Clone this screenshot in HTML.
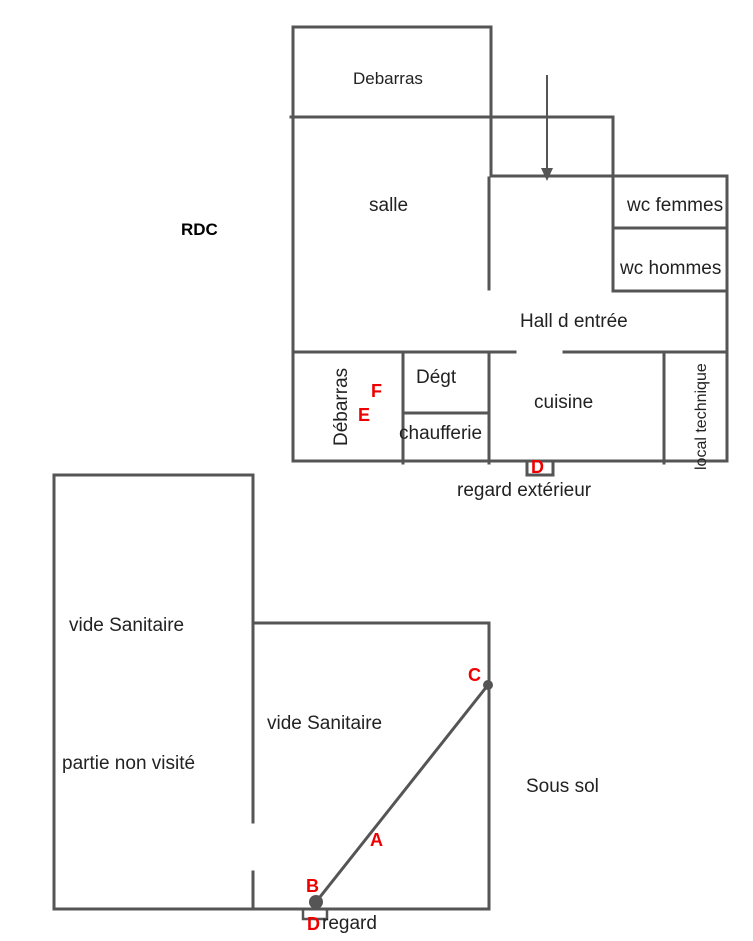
<!DOCTYPE html>
<html><head><meta charset="utf-8"><style>
body{margin:0;background:#fff}
svg{display:block}
text{font-family:"Liberation Sans",Arial,sans-serif;fill:#222;font-size:19px}
.r{fill:#e00;font-weight:bold;font-size:18px}
</style></head><body>
<svg width="753" height="941" viewBox="0 0 753 941">
<g stroke="#555" stroke-width="3" fill="none" stroke-linecap="square">
<polyline points="293,461 293,27 491,27 491,117"/>
<line x1="291" y1="117" x2="613" y2="117"/>
<line x1="613" y1="117" x2="613" y2="291"/>
<line x1="491" y1="117" x2="491" y2="176"/>
<line x1="491" y1="176" x2="727" y2="176"/>
<line x1="727" y1="176" x2="727" y2="461"/>
<line x1="489" y1="178" x2="489" y2="289"/>
<line x1="613" y1="228" x2="727" y2="228"/>
<line x1="613" y1="291" x2="727" y2="291"/>
<line x1="293" y1="352" x2="515" y2="352"/>
<line x1="564" y1="352" x2="727" y2="352"/>
<line x1="293" y1="461" x2="727" y2="461"/>
<line x1="403" y1="352" x2="403" y2="463"/>
<line x1="489" y1="352" x2="489" y2="463"/>
<line x1="664" y1="352" x2="664" y2="463"/>
<line x1="403" y1="413" x2="489" y2="413"/>
<polyline points="527,461 527,475 553,475 553,461"/>
<line x1="547" y1="76" x2="547" y2="168" stroke-width="2"/>
<polyline points="253,475 54,475 54,909 489,909 489,623 253,623"/>
<line x1="253" y1="475" x2="253" y2="822"/>
<line x1="253" y1="872" x2="253" y2="909"/>
<polyline points="303,909 303,919 327,919 327,909" stroke-width="2.5"/>
<line x1="488" y1="685" x2="316" y2="902"/>
</g>
<polygon points="541,168 553,168 547,181" fill="#555"/>
<circle cx="316" cy="902" r="7" fill="#555"/>
<circle cx="488" cy="685" r="5" fill="#555"/>
<text x="353" y="84" style="font-size:17px">Debarras</text>
<text x="369" y="211">salle</text>
<text x="181" y="235" font-weight="bold" style="fill:#000;font-size:17px">RDC</text>
<text x="627" y="211">wc femmes</text>
<text x="620" y="274">wc hommes</text>
<text x="520" y="327">Hall d entrée</text>
<text x="416" y="383">Dégt</text>
<text x="399" y="439">chaufferie</text>
<text x="534" y="408">cuisine</text>
<text transform="translate(347,446) rotate(-90)">Débarras</text>
<text transform="translate(706,470) rotate(-90)" style="font-size:16px">local technique</text>
<text class="r" x="371" y="397">F</text>
<text class="r" x="358" y="421">E</text>
<text class="r" x="531" y="473">D</text>
<text x="457" y="496">regard extérieur</text>
<text x="69" y="631">vide Sanitaire</text>
<text x="267" y="729">vide Sanitaire</text>
<text x="62" y="769">partie non visité</text>
<text x="526" y="792">Sous sol</text>
<text class="r" x="468" y="681">C</text>
<text class="r" x="370" y="846">A</text>
<text class="r" x="306" y="892">B</text>
<text class="r" x="307" y="930">D</text>
<text x="322" y="929">regard</text>
</svg>
</body></html>
